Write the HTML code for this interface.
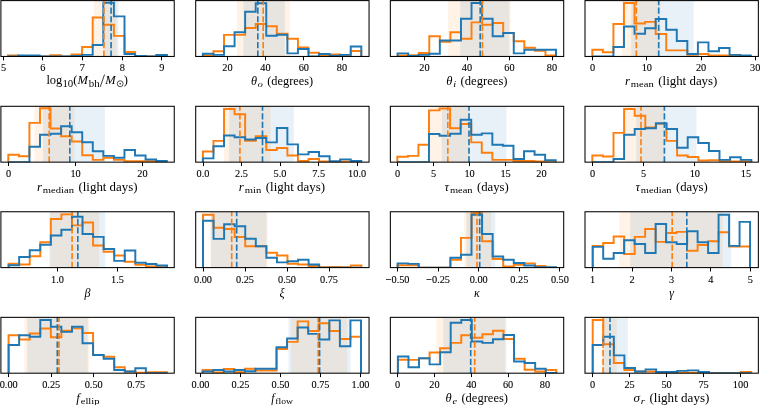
<!DOCTYPE html><html><head><meta charset="utf-8"><style>html,body{margin:0;padding:0;background:#fff;}svg{display:block;will-change:transform;}</style></head><body>
<svg width="760" height="405" viewBox="0 0 760 405">
<rect width="760" height="405" fill="#fff"/>
<clipPath id="c00"><rect x="0.90" y="0.60" width="173.35" height="55.85"/></clipPath>
<g clip-path="url(#c00)">
<rect x="93.90" y="0.60" width="22.60" height="55.85" fill="#ff7f0e" fill-opacity="0.1"/>
<rect x="104.50" y="0.60" width="13.90" height="55.85" fill="#1f77b4" fill-opacity="0.1"/>
<path d="M7.90 56.45 L7.90 55.55 L18.50 55.55 L18.50 56.45 L29.10 56.45 L29.10 56.45 L39.70 56.45 L39.70 56.45 L50.30 56.45 L50.30 55.25 L60.90 55.25 L60.90 56.45 L71.50 56.45 L71.50 54.55 L82.10 54.55 L82.10 46.95 L92.70 46.95 L92.70 17.55 L103.30 17.55 L103.30 24.75 L113.90 24.75 L113.90 35.85 L124.50 35.85 L124.50 51.95 L135.10 51.95 L135.10 55.85 L145.70 55.85 L145.70 56.45 L156.30 56.45 L156.30 56.45 L166.90 56.45 L166.90 56.45" fill="none" stroke="#ff7f0e" stroke-width="1.95" stroke-linejoin="miter"/>
<path d="M7.90 56.45 L7.90 56.45 L18.50 56.45 L18.50 55.45 L29.10 55.45 L29.10 55.45 L39.70 55.45 L39.70 56.45 L50.30 56.45 L50.30 56.45 L60.90 56.45 L60.90 56.45 L71.50 56.45 L71.50 55.85 L82.10 55.85 L82.10 54.85 L92.70 54.85 L92.70 45.05 L103.30 45.05 L103.30 2.85 L113.90 2.85 L113.90 16.35 L124.50 16.35 L124.50 54.05 L135.10 54.05 L135.10 55.85 L145.70 55.85 L145.70 56.45 L156.30 56.45 L156.30 54.95 L166.90 54.95 L166.90 56.45" fill="none" stroke="#1f77b4" stroke-width="1.95" stroke-linejoin="miter"/>
<line x1="103.90" y1="56.75" x2="103.90" y2="0.60" stroke="#ff7f0e" stroke-width="1.65" stroke-dasharray="6.2 2.4"/>
<line x1="111.10" y1="56.75" x2="111.10" y2="0.60" stroke="#1f77b4" stroke-width="1.65" stroke-dasharray="6.2 2.4"/>
</g>
<rect x="0.90" y="0.60" width="173.35" height="55.85" fill="none" stroke="#000" stroke-width="1.05"/>
<line x1="3.50" y1="56.45" x2="3.50" y2="60.35" stroke="#000" stroke-width="1.0"/>
<text x="3.50" y="71.45" font-family='"Liberation Serif", serif' font-size="10.30" text-anchor="middle" fill="#000" stroke="#000" stroke-width="0.10">5</text>
<line x1="42.50" y1="56.45" x2="42.50" y2="60.35" stroke="#000" stroke-width="1.0"/>
<text x="42.90" y="71.45" font-family='"Liberation Serif", serif' font-size="10.30" text-anchor="middle" fill="#000" stroke="#000" stroke-width="0.10">6</text>
<line x1="82.50" y1="56.45" x2="82.50" y2="60.35" stroke="#000" stroke-width="1.0"/>
<text x="82.40" y="71.45" font-family='"Liberation Serif", serif' font-size="10.30" text-anchor="middle" fill="#000" stroke="#000" stroke-width="0.10">7</text>
<line x1="122.50" y1="56.45" x2="122.50" y2="60.35" stroke="#000" stroke-width="1.0"/>
<text x="122.30" y="71.45" font-family='"Liberation Serif", serif' font-size="10.30" text-anchor="middle" fill="#000" stroke="#000" stroke-width="0.10">8</text>
<line x1="161.50" y1="56.45" x2="161.50" y2="60.35" stroke="#000" stroke-width="1.0"/>
<text x="161.80" y="71.45" font-family='"Liberation Serif", serif' font-size="10.30" text-anchor="middle" fill="#000" stroke="#000" stroke-width="0.10">9</text>
<clipPath id="c01"><rect x="195.70" y="0.60" width="173.35" height="55.85"/></clipPath>
<g clip-path="url(#c01)">
<rect x="237.00" y="0.60" width="52.90" height="55.85" fill="#ff7f0e" fill-opacity="0.1"/>
<rect x="243.40" y="0.60" width="41.50" height="55.85" fill="#1f77b4" fill-opacity="0.1"/>
<path d="M202.90 56.45 L202.90 55.55 L213.46 55.55 L213.46 51.25 L224.02 51.25 L224.02 34.85 L234.58 34.85 L234.58 34.85 L245.14 34.85 L245.14 27.95 L255.70 27.95 L255.70 24.05 L266.26 24.05 L266.26 26.15 L276.82 26.15 L276.82 33.65 L287.38 33.65 L287.38 38.75 L297.94 38.75 L297.94 47.35 L308.50 47.35 L308.50 52.65 L319.06 52.65 L319.06 55.55 L329.62 55.55 L329.62 54.55 L340.18 54.55 L340.18 54.85 L350.74 54.85 L350.74 50.95 L361.30 50.95 L361.30 56.45" fill="none" stroke="#ff7f0e" stroke-width="1.95" stroke-linejoin="miter"/>
<path d="M202.90 56.45 L202.90 53.65 L213.46 53.65 L213.46 54.85 L224.02 54.85 L224.02 46.25 L234.58 46.25 L234.58 32.15 L245.14 32.15 L245.14 11.65 L255.70 11.65 L255.70 3.25 L266.26 3.25 L266.26 35.65 L276.82 35.65 L276.82 34.75 L287.38 34.75 L287.38 53.35 L297.94 53.35 L297.94 49.05 L308.50 49.05 L308.50 56.45 L319.06 56.45 L319.06 54.05 L329.62 54.05 L329.62 55.65 L340.18 55.65 L340.18 54.85 L350.74 54.85 L350.74 46.55 L361.30 46.55 L361.30 56.45" fill="none" stroke="#1f77b4" stroke-width="1.95" stroke-linejoin="miter"/>
<line x1="263.20" y1="56.75" x2="263.20" y2="0.60" stroke="#ff7f0e" stroke-width="1.65" stroke-dasharray="6.2 2.4"/>
<line x1="257.80" y1="56.75" x2="257.80" y2="0.60" stroke="#1f77b4" stroke-width="1.65" stroke-dasharray="6.2 2.4"/>
</g>
<rect x="195.70" y="0.60" width="173.35" height="55.85" fill="none" stroke="#000" stroke-width="1.05"/>
<line x1="227.50" y1="56.45" x2="227.50" y2="60.35" stroke="#000" stroke-width="1.0"/>
<text x="227.50" y="71.45" font-family='"Liberation Serif", serif' font-size="10.30" text-anchor="middle" fill="#000" stroke="#000" stroke-width="0.10">20</text>
<line x1="265.50" y1="56.45" x2="265.50" y2="60.35" stroke="#000" stroke-width="1.0"/>
<text x="265.50" y="71.45" font-family='"Liberation Serif", serif' font-size="10.30" text-anchor="middle" fill="#000" stroke="#000" stroke-width="0.10">40</text>
<line x1="303.50" y1="56.45" x2="303.50" y2="60.35" stroke="#000" stroke-width="1.0"/>
<text x="303.80" y="71.45" font-family='"Liberation Serif", serif' font-size="10.30" text-anchor="middle" fill="#000" stroke="#000" stroke-width="0.10">60</text>
<line x1="342.50" y1="56.45" x2="342.50" y2="60.35" stroke="#000" stroke-width="1.0"/>
<text x="342.00" y="71.45" font-family='"Liberation Serif", serif' font-size="10.30" text-anchor="middle" fill="#000" stroke="#000" stroke-width="0.10">80</text>
<clipPath id="c02"><rect x="390.35" y="0.60" width="173.35" height="55.85"/></clipPath>
<g clip-path="url(#c02)">
<rect x="448.10" y="0.60" width="62.60" height="55.85" fill="#ff7f0e" fill-opacity="0.1"/>
<rect x="460.20" y="0.60" width="49.00" height="55.85" fill="#1f77b4" fill-opacity="0.1"/>
<path d="M397.60 56.45 L397.60 55.55 L408.16 55.55 L408.16 55.25 L418.72 55.25 L418.72 53.05 L429.28 53.05 L429.28 36.15 L439.84 36.15 L439.84 41.65 L450.40 41.65 L450.40 32.15 L460.96 32.15 L460.96 38.75 L471.52 38.75 L471.52 22.35 L482.08 22.35 L482.08 24.75 L492.64 24.75 L492.64 22.95 L503.20 22.95 L503.20 33.05 L513.76 33.05 L513.76 41.15 L524.32 41.15 L524.32 47.65 L534.88 47.65 L534.88 50.75 L545.44 50.75 L545.44 55.55 L556.00 55.55 L556.00 56.45" fill="none" stroke="#ff7f0e" stroke-width="1.95" stroke-linejoin="miter"/>
<path d="M397.60 56.45 L397.60 53.35 L408.16 53.35 L408.16 55.95 L418.72 55.95 L418.72 54.85 L429.28 54.85 L429.28 53.65 L439.84 53.65 L439.84 40.45 L450.40 40.45 L450.40 40.45 L460.96 40.45 L460.96 18.65 L471.52 18.65 L471.52 2.95 L482.08 2.95 L482.08 18.65 L492.64 18.65 L492.64 36.15 L503.20 36.15 L503.20 33.05 L513.76 33.05 L513.76 53.35 L524.32 53.35 L524.32 49.75 L534.88 49.75 L534.88 49.75 L545.44 49.75 L545.44 49.75 L556.00 49.75 L556.00 56.45" fill="none" stroke="#1f77b4" stroke-width="1.95" stroke-linejoin="miter"/>
<line x1="482.40" y1="56.75" x2="482.40" y2="0.60" stroke="#ff7f0e" stroke-width="1.65" stroke-dasharray="6.2 2.4"/>
<line x1="480.20" y1="56.75" x2="480.20" y2="0.60" stroke="#1f77b4" stroke-width="1.65" stroke-dasharray="6.2 2.4"/>
</g>
<rect x="390.35" y="0.60" width="173.35" height="55.85" fill="none" stroke="#000" stroke-width="1.05"/>
<line x1="424.50" y1="56.45" x2="424.50" y2="60.35" stroke="#000" stroke-width="1.0"/>
<text x="424.50" y="71.45" font-family='"Liberation Serif", serif' font-size="10.30" text-anchor="middle" fill="#000" stroke="#000" stroke-width="0.10">20</text>
<line x1="467.50" y1="56.45" x2="467.50" y2="60.35" stroke="#000" stroke-width="1.0"/>
<text x="467.00" y="71.45" font-family='"Liberation Serif", serif' font-size="10.30" text-anchor="middle" fill="#000" stroke="#000" stroke-width="0.10">40</text>
<line x1="509.50" y1="56.45" x2="509.50" y2="60.35" stroke="#000" stroke-width="1.0"/>
<text x="509.50" y="71.45" font-family='"Liberation Serif", serif' font-size="10.30" text-anchor="middle" fill="#000" stroke="#000" stroke-width="0.10">60</text>
<line x1="552.50" y1="56.45" x2="552.50" y2="60.35" stroke="#000" stroke-width="1.0"/>
<text x="552.00" y="71.45" font-family='"Liberation Serif", serif' font-size="10.30" text-anchor="middle" fill="#000" stroke="#000" stroke-width="0.10">80</text>
<clipPath id="c03"><rect x="585.00" y="0.60" width="173.35" height="55.85"/></clipPath>
<g clip-path="url(#c03)">
<rect x="621.70" y="0.60" width="38.70" height="55.85" fill="#ff7f0e" fill-opacity="0.1"/>
<rect x="631.30" y="0.60" width="62.30" height="55.85" fill="#1f77b4" fill-opacity="0.1"/>
<path d="M592.30 56.45 L592.30 49.75 L602.86 49.75 L602.86 52.25 L613.42 52.25 L613.42 23.95 L623.98 23.95 L623.98 2.95 L634.54 2.95 L634.54 23.55 L645.10 23.55 L645.10 21.85 L655.66 21.85 L655.66 34.05 L666.22 34.05 L666.22 50.35 L676.78 50.35 L676.78 50.35 L687.34 50.35 L687.34 54.85 L697.90 54.85 L697.90 54.05 L708.46 54.05 L708.46 55.55 L719.02 55.55 L719.02 55.55 L729.58 55.55 L729.58 55.95 L740.14 55.95 L740.14 55.95 L750.70 55.95 L750.70 56.45" fill="none" stroke="#ff7f0e" stroke-width="1.95" stroke-linejoin="miter"/>
<path d="M592.30 56.45 L592.30 56.45 L602.86 56.45 L602.86 56.45 L613.42 56.45 L613.42 46.95 L623.98 46.95 L623.98 26.45 L634.54 26.45 L634.54 33.65 L645.10 33.65 L645.10 28.25 L655.66 28.25 L655.66 18.95 L666.22 18.95 L666.22 29.75 L676.78 29.75 L676.78 40.95 L687.34 40.95 L687.34 54.05 L697.90 54.05 L697.90 42.35 L708.46 42.35 L708.46 51.25 L719.02 51.25 L719.02 47.95 L729.58 47.95 L729.58 54.85 L740.14 54.85 L740.14 55.55 L750.70 55.55 L750.70 56.45" fill="none" stroke="#1f77b4" stroke-width="1.95" stroke-linejoin="miter"/>
<line x1="636.30" y1="56.75" x2="636.30" y2="0.60" stroke="#ff7f0e" stroke-width="1.65" stroke-dasharray="6.2 2.4"/>
<line x1="658.70" y1="56.75" x2="658.70" y2="0.60" stroke="#1f77b4" stroke-width="1.65" stroke-dasharray="6.2 2.4"/>
</g>
<rect x="585.00" y="0.60" width="173.35" height="55.85" fill="none" stroke="#000" stroke-width="1.05"/>
<line x1="592.50" y1="56.45" x2="592.50" y2="60.35" stroke="#000" stroke-width="1.0"/>
<text x="592.60" y="71.45" font-family='"Liberation Serif", serif' font-size="10.30" text-anchor="middle" fill="#000" stroke="#000" stroke-width="0.10">0</text>
<line x1="646.50" y1="56.45" x2="646.50" y2="60.35" stroke="#000" stroke-width="1.0"/>
<text x="646.80" y="71.45" font-family='"Liberation Serif", serif' font-size="10.30" text-anchor="middle" fill="#000" stroke="#000" stroke-width="0.10">10</text>
<line x1="701.50" y1="56.45" x2="701.50" y2="60.35" stroke="#000" stroke-width="1.0"/>
<text x="701.10" y="71.45" font-family='"Liberation Serif", serif' font-size="10.30" text-anchor="middle" fill="#000" stroke="#000" stroke-width="0.10">20</text>
<line x1="755.50" y1="56.45" x2="755.50" y2="60.35" stroke="#000" stroke-width="1.0"/>
<text x="755.20" y="71.45" font-family='"Liberation Serif", serif' font-size="10.30" text-anchor="middle" fill="#000" stroke="#000" stroke-width="0.10">30</text>
<clipPath id="c10"><rect x="0.90" y="106.30" width="173.35" height="55.85"/></clipPath>
<g clip-path="url(#c10)">
<rect x="34.40" y="106.30" width="40.10" height="55.85" fill="#ff7f0e" fill-opacity="0.1"/>
<rect x="43.00" y="106.30" width="61.90" height="55.85" fill="#1f77b4" fill-opacity="0.1"/>
<path d="M8.30 162.15 L8.30 154.75 L18.86 154.75 L18.86 156.25 L29.42 156.25 L29.42 122.85 L39.98 122.85 L39.98 108.25 L50.54 108.25 L50.54 128.55 L61.10 128.55 L61.10 136.15 L71.66 136.15 L71.66 141.45 L82.22 141.45 L82.22 155.15 L92.78 155.15 L92.78 159.85 L103.34 159.85 L103.34 157.65 L113.90 157.65 L113.90 159.85 L124.46 159.85 L124.46 161.25 L135.02 161.25 L135.02 161.25 L145.58 161.25 L145.58 161.25 L156.14 161.25 L156.14 161.35 L166.70 161.35 L166.70 162.15" fill="none" stroke="#ff7f0e" stroke-width="1.95" stroke-linejoin="miter"/>
<path d="M8.30 162.15 L8.30 162.15 L18.86 162.15 L18.86 162.15 L29.42 162.15 L29.42 146.65 L39.98 146.65 L39.98 134.75 L50.54 134.75 L50.54 133.75 L61.10 133.75 L61.10 126.15 L71.66 126.15 L71.66 132.25 L82.22 132.25 L82.22 142.15 L92.78 142.15 L92.78 151.25 L103.34 151.25 L103.34 155.85 L113.90 155.85 L113.90 157.65 L124.46 157.65 L124.46 150.05 L135.02 150.05 L135.02 155.55 L145.58 155.55 L145.58 159.55 L156.14 159.55 L156.14 160.95 L166.70 160.95 L166.70 162.15" fill="none" stroke="#1f77b4" stroke-width="1.95" stroke-linejoin="miter"/>
<line x1="49.20" y1="162.45" x2="49.20" y2="106.30" stroke="#ff7f0e" stroke-width="1.65" stroke-dasharray="6.2 2.4"/>
<line x1="69.80" y1="162.45" x2="69.80" y2="106.30" stroke="#1f77b4" stroke-width="1.65" stroke-dasharray="6.2 2.4"/>
</g>
<rect x="0.90" y="106.30" width="173.35" height="55.85" fill="none" stroke="#000" stroke-width="1.05"/>
<line x1="8.50" y1="162.15" x2="8.50" y2="166.05" stroke="#000" stroke-width="1.0"/>
<text x="8.70" y="177.15" font-family='"Liberation Serif", serif' font-size="10.30" text-anchor="middle" fill="#000" stroke="#000" stroke-width="0.10">0</text>
<line x1="75.50" y1="162.15" x2="75.50" y2="166.05" stroke="#000" stroke-width="1.0"/>
<text x="75.60" y="177.15" font-family='"Liberation Serif", serif' font-size="10.30" text-anchor="middle" fill="#000" stroke="#000" stroke-width="0.10">10</text>
<line x1="142.50" y1="162.15" x2="142.50" y2="166.05" stroke="#000" stroke-width="1.0"/>
<text x="142.50" y="177.15" font-family='"Liberation Serif", serif' font-size="10.30" text-anchor="middle" fill="#000" stroke="#000" stroke-width="0.10">20</text>
<clipPath id="c11"><rect x="195.70" y="106.30" width="173.35" height="55.85"/></clipPath>
<g clip-path="url(#c11)">
<rect x="224.10" y="106.30" width="46.60" height="55.85" fill="#ff7f0e" fill-opacity="0.1"/>
<rect x="229.10" y="106.30" width="64.70" height="55.85" fill="#1f77b4" fill-opacity="0.1"/>
<path d="M202.90 162.15 L202.90 151.55 L213.46 151.55 L213.46 140.85 L224.02 140.85 L224.02 108.95 L234.58 108.95 L234.58 114.25 L245.14 114.25 L245.14 140.85 L255.70 140.85 L255.70 136.15 L266.26 136.15 L266.26 150.05 L276.82 150.05 L276.82 148.05 L287.38 148.05 L287.38 155.55 L297.94 155.55 L297.94 160.95 L308.50 160.95 L308.50 159.05 L319.06 159.05 L319.06 161.55 L329.62 161.55 L329.62 162.15 L340.18 162.15 L340.18 161.55 L350.74 161.55 L350.74 162.15 L361.30 162.15 L361.30 162.15" fill="none" stroke="#ff7f0e" stroke-width="1.95" stroke-linejoin="miter"/>
<path d="M202.90 162.15 L202.90 158.35 L213.46 158.35 L213.46 146.15 L224.02 146.15 L224.02 135.45 L234.58 135.45 L234.58 137.15 L245.14 137.15 L245.14 139.45 L255.70 139.45 L255.70 138.05 L266.26 138.05 L266.26 142.35 L276.82 142.35 L276.82 127.95 L287.38 127.95 L287.38 144.35 L297.94 144.35 L297.94 154.35 L308.50 154.35 L308.50 151.95 L319.06 151.95 L319.06 156.25 L329.62 156.25 L329.62 161.25 L340.18 161.25 L340.18 159.35 L350.74 159.35 L350.74 160.95 L361.30 160.95 L361.30 162.15" fill="none" stroke="#1f77b4" stroke-width="1.95" stroke-linejoin="miter"/>
<line x1="239.90" y1="162.45" x2="239.90" y2="106.30" stroke="#ff7f0e" stroke-width="1.65" stroke-dasharray="6.2 2.4"/>
<line x1="262.50" y1="162.45" x2="262.50" y2="106.30" stroke="#1f77b4" stroke-width="1.65" stroke-dasharray="6.2 2.4"/>
</g>
<rect x="195.70" y="106.30" width="173.35" height="55.85" fill="none" stroke="#000" stroke-width="1.05"/>
<line x1="203.50" y1="162.15" x2="203.50" y2="166.05" stroke="#000" stroke-width="1.0"/>
<text x="203.00" y="177.15" font-family='"Liberation Serif", serif' font-size="10.30" text-anchor="middle" fill="#000" stroke="#000" stroke-width="0.10">0.0</text>
<line x1="241.50" y1="162.15" x2="241.50" y2="166.05" stroke="#000" stroke-width="1.0"/>
<text x="241.50" y="177.15" font-family='"Liberation Serif", serif' font-size="10.30" text-anchor="middle" fill="#000" stroke="#000" stroke-width="0.10">2.5</text>
<line x1="280.50" y1="162.15" x2="280.50" y2="166.05" stroke="#000" stroke-width="1.0"/>
<text x="280.00" y="177.15" font-family='"Liberation Serif", serif' font-size="10.30" text-anchor="middle" fill="#000" stroke="#000" stroke-width="0.10">5.0</text>
<line x1="318.50" y1="162.15" x2="318.50" y2="166.05" stroke="#000" stroke-width="1.0"/>
<text x="318.60" y="177.15" font-family='"Liberation Serif", serif' font-size="10.30" text-anchor="middle" fill="#000" stroke="#000" stroke-width="0.10">7.5</text>
<line x1="357.50" y1="162.15" x2="357.50" y2="166.05" stroke="#000" stroke-width="1.0"/>
<text x="357.10" y="177.15" font-family='"Liberation Serif", serif' font-size="10.30" text-anchor="middle" fill="#000" stroke="#000" stroke-width="0.10">10.0</text>
<clipPath id="c12"><rect x="390.35" y="106.30" width="173.35" height="55.85"/></clipPath>
<g clip-path="url(#c12)">
<rect x="429.80" y="106.30" width="39.50" height="55.85" fill="#ff7f0e" fill-opacity="0.1"/>
<rect x="441.70" y="106.30" width="64.70" height="55.85" fill="#1f77b4" fill-opacity="0.1"/>
<path d="M397.30 162.15 L397.30 156.65 L407.86 156.65 L407.86 155.85 L418.42 155.85 L418.42 144.75 L428.98 144.75 L428.98 110.35 L439.54 110.35 L439.54 108.55 L450.10 108.55 L450.10 128.25 L460.66 128.25 L460.66 123.95 L471.22 123.95 L471.22 142.35 L481.78 142.35 L481.78 152.65 L492.34 152.65 L492.34 159.85 L502.90 159.85 L502.90 159.85 L513.46 159.85 L513.46 160.95 L524.02 160.95 L524.02 160.95 L534.58 160.95 L534.58 161.55 L545.14 161.55 L545.14 162.15 L555.70 162.15 L555.70 162.15" fill="none" stroke="#ff7f0e" stroke-width="1.95" stroke-linejoin="miter"/>
<path d="M397.30 162.15 L397.30 162.15 L407.86 162.15 L407.86 162.15 L418.42 162.15 L418.42 162.15 L428.98 162.15 L428.98 134.05 L439.54 134.05 L439.54 135.75 L450.10 135.75 L450.10 133.75 L460.66 133.75 L460.66 119.65 L471.22 119.65 L471.22 134.75 L481.78 134.75 L481.78 133.35 L492.34 133.35 L492.34 144.75 L502.90 144.75 L502.90 145.75 L513.46 145.75 L513.46 159.05 L524.02 159.05 L524.02 151.25 L534.58 151.25 L534.58 154.75 L545.14 154.75 L545.14 160.15 L555.70 160.15 L555.70 162.15" fill="none" stroke="#1f77b4" stroke-width="1.95" stroke-linejoin="miter"/>
<line x1="447.80" y1="162.45" x2="447.80" y2="106.30" stroke="#ff7f0e" stroke-width="1.65" stroke-dasharray="6.2 2.4"/>
<line x1="469.00" y1="162.45" x2="469.00" y2="106.30" stroke="#1f77b4" stroke-width="1.65" stroke-dasharray="6.2 2.4"/>
</g>
<rect x="390.35" y="106.30" width="173.35" height="55.85" fill="none" stroke="#000" stroke-width="1.05"/>
<line x1="397.50" y1="162.15" x2="397.50" y2="166.05" stroke="#000" stroke-width="1.0"/>
<text x="397.60" y="177.15" font-family='"Liberation Serif", serif' font-size="10.30" text-anchor="middle" fill="#000" stroke="#000" stroke-width="0.10">0</text>
<line x1="433.50" y1="162.15" x2="433.50" y2="166.05" stroke="#000" stroke-width="1.0"/>
<text x="433.60" y="177.15" font-family='"Liberation Serif", serif' font-size="10.30" text-anchor="middle" fill="#000" stroke="#000" stroke-width="0.10">5</text>
<line x1="469.50" y1="162.15" x2="469.50" y2="166.05" stroke="#000" stroke-width="1.0"/>
<text x="469.60" y="177.15" font-family='"Liberation Serif", serif' font-size="10.30" text-anchor="middle" fill="#000" stroke="#000" stroke-width="0.10">10</text>
<line x1="505.50" y1="162.15" x2="505.50" y2="166.05" stroke="#000" stroke-width="1.0"/>
<text x="505.60" y="177.15" font-family='"Liberation Serif", serif' font-size="10.30" text-anchor="middle" fill="#000" stroke="#000" stroke-width="0.10">15</text>
<line x1="541.50" y1="162.15" x2="541.50" y2="166.05" stroke="#000" stroke-width="1.0"/>
<text x="541.50" y="177.15" font-family='"Liberation Serif", serif' font-size="10.30" text-anchor="middle" fill="#000" stroke="#000" stroke-width="0.10">20</text>
<clipPath id="c13"><rect x="585.00" y="106.30" width="173.35" height="55.85"/></clipPath>
<g clip-path="url(#c13)">
<rect x="624.90" y="106.30" width="39.10" height="55.85" fill="#ff7f0e" fill-opacity="0.1"/>
<rect x="636.30" y="106.30" width="60.20" height="55.85" fill="#1f77b4" fill-opacity="0.1"/>
<path d="M592.30 162.15 L592.30 155.55 L602.90 155.55 L602.90 156.55 L613.50 156.55 L613.50 132.85 L624.10 132.85 L624.10 108.95 L634.70 108.95 L634.70 115.65 L645.30 115.65 L645.30 127.35 L655.90 127.35 L655.90 123.85 L666.50 123.85 L666.50 140.85 L677.10 140.85 L677.10 155.55 L687.70 155.55 L687.70 156.95 L698.30 156.95 L698.30 160.55 L708.90 160.55 L708.90 160.15 L719.50 160.15 L719.50 161.25 L730.10 161.25 L730.10 161.55 L740.70 161.55 L740.70 161.55 L751.30 161.55 L751.30 162.15" fill="none" stroke="#ff7f0e" stroke-width="1.95" stroke-linejoin="miter"/>
<path d="M592.30 162.15 L592.30 162.15 L602.90 162.15 L602.90 162.15 L613.50 162.15 L613.50 159.05 L624.10 159.05 L624.10 134.75 L634.70 134.75 L634.70 128.95 L645.30 128.95 L645.30 128.15 L655.90 128.15 L655.90 123.15 L666.50 123.15 L666.50 128.95 L677.10 128.95 L677.10 147.65 L687.70 147.65 L687.70 137.15 L698.30 137.15 L698.30 142.95 L708.90 142.95 L708.90 150.95 L719.50 150.95 L719.50 159.85 L730.10 159.85 L730.10 157.25 L740.70 157.25 L740.70 159.85 L751.30 159.85 L751.30 162.15" fill="none" stroke="#1f77b4" stroke-width="1.95" stroke-linejoin="miter"/>
<line x1="641.00" y1="162.45" x2="641.00" y2="106.30" stroke="#ff7f0e" stroke-width="1.65" stroke-dasharray="6.2 2.4"/>
<line x1="664.40" y1="162.45" x2="664.40" y2="106.30" stroke="#1f77b4" stroke-width="1.65" stroke-dasharray="6.2 2.4"/>
</g>
<rect x="585.00" y="106.30" width="173.35" height="55.85" fill="none" stroke="#000" stroke-width="1.05"/>
<line x1="592.50" y1="162.15" x2="592.50" y2="166.05" stroke="#000" stroke-width="1.0"/>
<text x="592.60" y="177.15" font-family='"Liberation Serif", serif' font-size="10.30" text-anchor="middle" fill="#000" stroke="#000" stroke-width="0.10">0</text>
<line x1="643.50" y1="162.15" x2="643.50" y2="166.05" stroke="#000" stroke-width="1.0"/>
<text x="643.70" y="177.15" font-family='"Liberation Serif", serif' font-size="10.30" text-anchor="middle" fill="#000" stroke="#000" stroke-width="0.10">5</text>
<line x1="694.50" y1="162.15" x2="694.50" y2="166.05" stroke="#000" stroke-width="1.0"/>
<text x="694.80" y="177.15" font-family='"Liberation Serif", serif' font-size="10.30" text-anchor="middle" fill="#000" stroke="#000" stroke-width="0.10">10</text>
<line x1="745.50" y1="162.15" x2="745.50" y2="166.05" stroke="#000" stroke-width="1.0"/>
<text x="745.90" y="177.15" font-family='"Liberation Serif", serif' font-size="10.30" text-anchor="middle" fill="#000" stroke="#000" stroke-width="0.10">15</text>
<clipPath id="c20"><rect x="0.90" y="211.75" width="173.35" height="55.85"/></clipPath>
<g clip-path="url(#c20)">
<rect x="50.20" y="211.75" width="49.00" height="55.85" fill="#ff7f0e" fill-opacity="0.1"/>
<rect x="49.40" y="211.75" width="55.80" height="55.85" fill="#1f77b4" fill-opacity="0.1"/>
<path d="M8.60 267.60 L8.60 263.65 L19.16 263.65 L19.16 264.55 L29.72 264.55 L29.72 256.25 L40.28 256.25 L40.28 242.15 L50.84 242.15 L50.84 218.95 L61.40 218.95 L61.40 214.35 L71.96 214.35 L71.96 225.35 L82.52 225.35 L82.52 222.55 L93.08 222.55 L93.08 245.45 L103.64 245.45 L103.64 251.65 L114.20 251.65 L114.20 255.45 L124.76 255.45 L124.76 261.65 L135.32 261.65 L135.32 264.85 L145.88 264.85 L145.88 266.55 L156.44 266.55 L156.44 266.85 L167.00 266.85 L167.00 267.60" fill="none" stroke="#ff7f0e" stroke-width="1.95" stroke-linejoin="miter"/>
<path d="M8.60 267.60 L8.60 265.15 L19.16 265.15 L19.16 256.95 L29.72 256.95 L29.72 250.15 L40.28 250.15 L40.28 244.75 L50.84 244.75 L50.84 235.45 L61.40 235.45 L61.40 229.65 L71.96 229.65 L71.96 216.75 L82.52 216.75 L82.52 233.95 L93.08 233.95 L93.08 236.85 L103.64 236.85 L103.64 249.05 L114.20 249.05 L114.20 260.85 L124.76 260.85 L124.76 250.45 L135.32 250.45 L135.32 262.65 L145.88 262.65 L145.88 264.05 L156.44 264.05 L156.44 265.55 L167.00 265.55 L167.00 267.60" fill="none" stroke="#1f77b4" stroke-width="1.95" stroke-linejoin="miter"/>
<line x1="72.10" y1="267.90" x2="72.10" y2="211.75" stroke="#ff7f0e" stroke-width="1.65" stroke-dasharray="6.2 2.4"/>
<line x1="77.80" y1="267.90" x2="77.80" y2="211.75" stroke="#1f77b4" stroke-width="1.65" stroke-dasharray="6.2 2.4"/>
</g>
<rect x="0.90" y="211.75" width="173.35" height="55.85" fill="none" stroke="#000" stroke-width="1.05"/>
<line x1="57.50" y1="267.60" x2="57.50" y2="271.50" stroke="#000" stroke-width="1.0"/>
<text x="57.50" y="282.60" font-family='"Liberation Serif", serif' font-size="10.30" text-anchor="middle" fill="#000" stroke="#000" stroke-width="0.10">1.0</text>
<line x1="117.50" y1="267.60" x2="117.50" y2="271.50" stroke="#000" stroke-width="1.0"/>
<text x="117.50" y="282.60" font-family='"Liberation Serif", serif' font-size="10.30" text-anchor="middle" fill="#000" stroke="#000" stroke-width="0.10">1.5</text>
<clipPath id="c21"><rect x="195.70" y="211.75" width="173.35" height="55.85"/></clipPath>
<g clip-path="url(#c21)">
<rect x="210.50" y="211.75" width="57.30" height="55.85" fill="#ff7f0e" fill-opacity="0.1"/>
<rect x="211.00" y="211.75" width="55.40" height="55.85" fill="#1f77b4" fill-opacity="0.1"/>
<path d="M203.00 267.60 L203.00 214.65 L213.56 214.65 L213.56 227.65 L224.12 227.65 L224.12 228.95 L234.68 228.95 L234.68 237.05 L245.24 237.05 L245.24 246.15 L255.80 246.15 L255.80 246.15 L266.36 246.15 L266.36 252.65 L276.92 252.65 L276.92 255.45 L287.48 255.45 L287.48 263.65 L298.04 263.65 L298.04 264.55 L308.60 264.55 L308.60 265.95 L319.16 265.95 L319.16 267.15 L329.72 267.15 L329.72 266.85 L340.28 266.85 L340.28 267.15 L350.84 267.15 L350.84 265.55 L361.40 265.55 L361.40 267.60" fill="none" stroke="#ff7f0e" stroke-width="1.95" stroke-linejoin="miter"/>
<path d="M203.00 267.60 L203.00 220.65 L213.56 220.65 L213.56 238.85 L224.12 238.85 L224.12 224.25 L234.68 224.25 L234.68 226.15 L245.24 226.15 L245.24 238.65 L255.80 238.65 L255.80 246.15 L266.36 246.15 L266.36 257.65 L276.92 257.65 L276.92 262.35 L287.48 262.35 L287.48 261.25 L298.04 261.25 L298.04 259.75 L308.60 259.75 L308.60 264.55 L319.16 264.55 L319.16 267.60 L329.72 267.60 L329.72 267.60 L340.28 267.60 L340.28 267.60 L350.84 267.60 L350.84 267.60 L361.40 267.60 L361.40 267.60" fill="none" stroke="#1f77b4" stroke-width="1.95" stroke-linejoin="miter"/>
<line x1="231.70" y1="267.90" x2="231.70" y2="211.75" stroke="#ff7f0e" stroke-width="1.65" stroke-dasharray="6.2 2.4"/>
<line x1="236.70" y1="267.90" x2="236.70" y2="211.75" stroke="#1f77b4" stroke-width="1.65" stroke-dasharray="6.2 2.4"/>
</g>
<rect x="195.70" y="211.75" width="173.35" height="55.85" fill="none" stroke="#000" stroke-width="1.05"/>
<line x1="203.50" y1="267.60" x2="203.50" y2="271.50" stroke="#000" stroke-width="1.0"/>
<text x="203.00" y="282.60" font-family='"Liberation Serif", serif' font-size="10.30" text-anchor="middle" fill="#000" stroke="#000" stroke-width="0.10">0.00</text>
<line x1="245.50" y1="267.60" x2="245.50" y2="271.50" stroke="#000" stroke-width="1.0"/>
<text x="245.00" y="282.60" font-family='"Liberation Serif", serif' font-size="10.30" text-anchor="middle" fill="#000" stroke="#000" stroke-width="0.10">0.25</text>
<line x1="287.50" y1="267.60" x2="287.50" y2="271.50" stroke="#000" stroke-width="1.0"/>
<text x="287.00" y="282.60" font-family='"Liberation Serif", serif' font-size="10.30" text-anchor="middle" fill="#000" stroke="#000" stroke-width="0.10">0.50</text>
<line x1="329.50" y1="267.60" x2="329.50" y2="271.50" stroke="#000" stroke-width="1.0"/>
<text x="329.00" y="282.60" font-family='"Liberation Serif", serif' font-size="10.30" text-anchor="middle" fill="#000" stroke="#000" stroke-width="0.10">0.75</text>
<clipPath id="c22"><rect x="390.35" y="211.75" width="173.35" height="55.85"/></clipPath>
<g clip-path="url(#c22)">
<rect x="464.20" y="211.75" width="27.10" height="55.85" fill="#ff7f0e" fill-opacity="0.1"/>
<rect x="466.40" y="211.75" width="28.90" height="55.85" fill="#1f77b4" fill-opacity="0.1"/>
<path d="M397.60 267.60 L397.60 265.15 L408.16 265.15 L408.16 265.15 L418.72 265.15 L418.72 267.60 L429.28 267.60 L429.28 267.60 L439.84 267.60 L439.84 267.60 L450.40 267.60 L450.40 259.75 L460.96 259.75 L460.96 237.85 L471.52 237.85 L471.52 213.15 L482.08 213.15 L482.08 241.15 L492.64 241.15 L492.64 259.05 L503.20 259.05 L503.20 266.55 L513.76 266.55 L513.76 264.85 L524.32 264.85 L524.32 263.35 L534.88 263.35 L534.88 265.95 L545.44 265.95 L545.44 267.60 L556.00 267.60 L556.00 267.60" fill="none" stroke="#ff7f0e" stroke-width="1.95" stroke-linejoin="miter"/>
<path d="M397.60 267.60 L397.60 263.35 L408.16 263.35 L408.16 263.85 L418.72 263.85 L418.72 267.60 L429.28 267.60 L429.28 267.60 L439.84 267.60 L439.84 267.60 L450.40 267.60 L450.40 257.65 L460.96 257.65 L460.96 254.75 L471.52 254.75 L471.52 214.65 L482.08 214.65 L482.08 233.95 L492.64 233.95 L492.64 256.55 L503.20 256.55 L503.20 259.75 L513.76 259.75 L513.76 263.05 L524.32 263.05 L524.32 265.55 L534.88 265.55 L534.88 267.15 L545.44 267.15 L545.44 267.15 L556.00 267.15 L556.00 267.60" fill="none" stroke="#1f77b4" stroke-width="1.95" stroke-linejoin="miter"/>
<line x1="477.00" y1="267.90" x2="477.00" y2="211.75" stroke="#ff7f0e" stroke-width="1.65" stroke-dasharray="6.2 2.4"/>
<line x1="479.70" y1="267.90" x2="479.70" y2="211.75" stroke="#1f77b4" stroke-width="1.65" stroke-dasharray="6.2 2.4"/>
</g>
<rect x="390.35" y="211.75" width="173.35" height="55.85" fill="none" stroke="#000" stroke-width="1.05"/>
<line x1="397.50" y1="267.60" x2="397.50" y2="271.50" stroke="#000" stroke-width="1.0"/>
<text x="397.60" y="282.60" font-family='"Liberation Serif", serif' font-size="10.30" text-anchor="middle" fill="#000" stroke="#000" stroke-width="0.10">−0.50</text>
<line x1="438.50" y1="267.60" x2="438.50" y2="271.50" stroke="#000" stroke-width="1.0"/>
<text x="438.10" y="282.60" font-family='"Liberation Serif", serif' font-size="10.30" text-anchor="middle" fill="#000" stroke="#000" stroke-width="0.10">−0.25</text>
<line x1="478.50" y1="267.60" x2="478.50" y2="271.50" stroke="#000" stroke-width="1.0"/>
<text x="478.70" y="282.60" font-family='"Liberation Serif", serif' font-size="10.30" text-anchor="middle" fill="#000" stroke="#000" stroke-width="0.10">0.00</text>
<line x1="519.50" y1="267.60" x2="519.50" y2="271.50" stroke="#000" stroke-width="1.0"/>
<text x="519.30" y="282.60" font-family='"Liberation Serif", serif' font-size="10.30" text-anchor="middle" fill="#000" stroke="#000" stroke-width="0.10">0.25</text>
<line x1="559.50" y1="267.60" x2="559.50" y2="271.50" stroke="#000" stroke-width="1.0"/>
<text x="559.90" y="282.60" font-family='"Liberation Serif", serif' font-size="10.30" text-anchor="middle" fill="#000" stroke="#000" stroke-width="0.10">0.50</text>
<clipPath id="c23"><rect x="585.00" y="211.75" width="173.35" height="55.85"/></clipPath>
<g clip-path="url(#c23)">
<rect x="619.50" y="211.75" width="103.10" height="55.85" fill="#ff7f0e" fill-opacity="0.1"/>
<rect x="630.30" y="211.75" width="100.90" height="55.85" fill="#1f77b4" fill-opacity="0.1"/>
<path d="M592.70 267.60 L592.70 245.85 L603.19 245.85 L603.19 243.05 L613.68 243.05 L613.68 236.45 L624.17 236.45 L624.17 254.05 L634.66 254.05 L634.66 236.85 L645.15 236.85 L645.15 228.95 L655.64 228.95 L655.64 241.85 L666.13 241.85 L666.13 232.95 L676.62 232.95 L676.62 231.85 L687.11 231.85 L687.11 250.75 L697.60 250.75 L697.60 245.05 L708.09 245.05 L708.09 241.15 L718.58 241.15 L718.58 232.15 L729.07 232.15 L729.07 246.45 L739.56 246.45 L739.56 246.45 L750.05 246.45 L750.05 267.60" fill="none" stroke="#ff7f0e" stroke-width="1.95" stroke-linejoin="miter"/>
<path d="M592.70 267.60 L592.70 246.85 L603.19 246.85 L603.19 258.75 L613.68 258.75 L613.68 253.05 L624.17 253.05 L624.17 240.15 L634.66 240.15 L634.66 244.05 L645.15 244.05 L645.15 253.05 L655.64 253.05 L655.64 223.95 L666.13 223.95 L666.13 242.15 L676.62 242.15 L676.62 244.05 L687.11 244.05 L687.11 231.15 L697.60 231.15 L697.60 242.15 L708.09 242.15 L708.09 253.05 L718.58 253.05 L718.58 214.65 L729.07 214.65 L729.07 245.85 L739.56 245.85 L739.56 221.85 L750.05 221.85 L750.05 267.60" fill="none" stroke="#1f77b4" stroke-width="1.95" stroke-linejoin="miter"/>
<line x1="672.20" y1="267.90" x2="672.20" y2="211.75" stroke="#ff7f0e" stroke-width="1.65" stroke-dasharray="6.2 2.4"/>
<line x1="686.80" y1="267.90" x2="686.80" y2="211.75" stroke="#1f77b4" stroke-width="1.65" stroke-dasharray="6.2 2.4"/>
</g>
<rect x="585.00" y="211.75" width="173.35" height="55.85" fill="none" stroke="#000" stroke-width="1.05"/>
<line x1="592.50" y1="267.60" x2="592.50" y2="271.50" stroke="#000" stroke-width="1.0"/>
<text x="592.60" y="282.60" font-family='"Liberation Serif", serif' font-size="10.30" text-anchor="middle" fill="#000" stroke="#000" stroke-width="0.10">1</text>
<line x1="632.50" y1="267.60" x2="632.50" y2="271.50" stroke="#000" stroke-width="1.0"/>
<text x="632.00" y="282.60" font-family='"Liberation Serif", serif' font-size="10.30" text-anchor="middle" fill="#000" stroke="#000" stroke-width="0.10">2</text>
<line x1="671.50" y1="267.60" x2="671.50" y2="271.50" stroke="#000" stroke-width="1.0"/>
<text x="671.50" y="282.60" font-family='"Liberation Serif", serif' font-size="10.30" text-anchor="middle" fill="#000" stroke="#000" stroke-width="0.10">3</text>
<line x1="710.50" y1="267.60" x2="710.50" y2="271.50" stroke="#000" stroke-width="1.0"/>
<text x="710.90" y="282.60" font-family='"Liberation Serif", serif' font-size="10.30" text-anchor="middle" fill="#000" stroke="#000" stroke-width="0.10">4</text>
<line x1="750.50" y1="267.60" x2="750.50" y2="271.50" stroke="#000" stroke-width="1.0"/>
<text x="750.30" y="282.60" font-family='"Liberation Serif", serif' font-size="10.30" text-anchor="middle" fill="#000" stroke="#000" stroke-width="0.10">5</text>
<clipPath id="c30"><rect x="0.90" y="317.35" width="173.35" height="55.85"/></clipPath>
<g clip-path="url(#c30)">
<rect x="24.40" y="317.35" width="64.90" height="55.85" fill="#ff7f0e" fill-opacity="0.1"/>
<rect x="27.20" y="317.35" width="60.60" height="55.85" fill="#1f77b4" fill-opacity="0.1"/>
<path d="M8.60 373.20 L8.60 335.25 L19.16 335.25 L19.16 339.55 L29.72 339.55 L29.72 333.55 L40.28 333.55 L40.28 328.55 L50.84 328.55 L50.84 337.15 L61.40 337.15 L61.40 330.65 L71.96 330.65 L71.96 328.35 L82.52 328.35 L82.52 333.05 L93.08 333.05 L93.08 355.05 L103.64 355.05 L103.64 356.75 L114.20 356.75 L114.20 367.25 L124.76 367.25 L124.76 371.55 L135.32 371.55 L135.32 372.65 L145.88 372.65 L145.88 372.25 L156.44 372.25 L156.44 372.25 L167.00 372.25 L167.00 373.20" fill="none" stroke="#ff7f0e" stroke-width="1.95" stroke-linejoin="miter"/>
<path d="M8.60 373.20 L8.60 345.05 L19.16 345.05 L19.16 335.25 L29.72 335.25 L29.72 336.75 L40.28 336.75 L40.28 319.95 L50.84 319.95 L50.84 326.65 L61.40 326.65 L61.40 331.85 L71.96 331.85 L71.96 326.75 L82.52 326.75 L82.52 343.25 L93.08 343.25 L93.08 355.05 L103.64 355.05 L103.64 358.65 L114.20 358.65 L114.20 370.05 L124.76 370.05 L124.76 371.55 L135.32 371.55 L135.32 368.25 L145.88 368.25 L145.88 373.20 L156.44 373.20 L156.44 373.20 L167.00 373.20 L167.00 373.20" fill="none" stroke="#1f77b4" stroke-width="1.95" stroke-linejoin="miter"/>
<line x1="59.00" y1="373.50" x2="59.00" y2="317.35" stroke="#ff7f0e" stroke-width="1.65" stroke-dasharray="6.2 2.4"/>
<line x1="57.30" y1="373.50" x2="57.30" y2="317.35" stroke="#1f77b4" stroke-width="1.65" stroke-dasharray="6.2 2.4"/>
</g>
<rect x="0.90" y="317.35" width="173.35" height="55.85" fill="none" stroke="#000" stroke-width="1.05"/>
<line x1="8.50" y1="373.20" x2="8.50" y2="377.10" stroke="#000" stroke-width="1.0"/>
<text x="8.70" y="388.20" font-family='"Liberation Serif", serif' font-size="10.30" text-anchor="middle" fill="#000" stroke="#000" stroke-width="0.10">0.00</text>
<line x1="51.50" y1="373.20" x2="51.50" y2="377.10" stroke="#000" stroke-width="1.0"/>
<text x="51.20" y="388.20" font-family='"Liberation Serif", serif' font-size="10.30" text-anchor="middle" fill="#000" stroke="#000" stroke-width="0.10">0.25</text>
<line x1="93.50" y1="373.20" x2="93.50" y2="377.10" stroke="#000" stroke-width="1.0"/>
<text x="93.70" y="388.20" font-family='"Liberation Serif", serif' font-size="10.30" text-anchor="middle" fill="#000" stroke="#000" stroke-width="0.10">0.50</text>
<line x1="136.50" y1="373.20" x2="136.50" y2="377.10" stroke="#000" stroke-width="1.0"/>
<text x="136.20" y="388.20" font-family='"Liberation Serif", serif' font-size="10.30" text-anchor="middle" fill="#000" stroke="#000" stroke-width="0.10">0.75</text>
<clipPath id="c31"><rect x="195.70" y="317.35" width="173.35" height="55.85"/></clipPath>
<g clip-path="url(#c31)">
<rect x="290.90" y="317.35" width="56.30" height="55.85" fill="#ff7f0e" fill-opacity="0.1"/>
<rect x="288.40" y="317.35" width="62.10" height="55.85" fill="#1f77b4" fill-opacity="0.1"/>
<path d="M202.60 373.20 L202.60 370.05 L213.16 370.05 L213.16 372.55 L223.72 372.55 L223.72 369.05 L234.28 369.05 L234.28 372.25 L244.84 372.25 L244.84 368.65 L255.40 368.65 L255.40 370.55 L265.96 370.55 L265.96 370.55 L276.52 370.55 L276.52 349.05 L287.08 349.05 L287.08 341.85 L297.64 341.85 L297.64 321.35 L308.20 321.35 L308.20 330.95 L318.76 330.95 L318.76 323.25 L329.32 323.25 L329.32 330.95 L339.88 330.95 L339.88 338.95 L350.44 338.95 L350.44 336.75 L361.00 336.75 L361.00 373.20" fill="none" stroke="#ff7f0e" stroke-width="1.95" stroke-linejoin="miter"/>
<path d="M202.60 373.20 L202.60 371.55 L213.16 371.55 L213.16 370.05 L223.72 370.05 L223.72 371.55 L234.28 371.55 L234.28 370.05 L244.84 370.05 L244.84 371.15 L255.40 371.15 L255.40 368.65 L265.96 368.65 L265.96 368.65 L276.52 368.65 L276.52 347.15 L287.08 347.15 L287.08 338.55 L297.64 338.55 L297.64 327.55 L308.20 327.55 L308.20 333.85 L318.76 333.85 L318.76 339.55 L329.32 339.55 L329.32 320.35 L339.88 320.35 L339.88 346.15 L350.44 346.15 L350.44 320.35 L361.00 320.35 L361.00 373.20" fill="none" stroke="#1f77b4" stroke-width="1.95" stroke-linejoin="miter"/>
<line x1="318.20" y1="373.50" x2="318.20" y2="317.35" stroke="#ff7f0e" stroke-width="1.65" stroke-dasharray="6.2 2.4"/>
<line x1="319.60" y1="373.50" x2="319.60" y2="317.35" stroke="#1f77b4" stroke-width="1.65" stroke-dasharray="6.2 2.4"/>
</g>
<rect x="195.70" y="317.35" width="173.35" height="55.85" fill="none" stroke="#000" stroke-width="1.05"/>
<line x1="200.50" y1="373.20" x2="200.50" y2="377.10" stroke="#000" stroke-width="1.0"/>
<text x="200.50" y="388.20" font-family='"Liberation Serif", serif' font-size="10.30" text-anchor="middle" fill="#000" stroke="#000" stroke-width="0.10">0.00</text>
<line x1="240.50" y1="373.20" x2="240.50" y2="377.10" stroke="#000" stroke-width="1.0"/>
<text x="240.50" y="388.20" font-family='"Liberation Serif", serif' font-size="10.30" text-anchor="middle" fill="#000" stroke="#000" stroke-width="0.10">0.25</text>
<line x1="280.50" y1="373.20" x2="280.50" y2="377.10" stroke="#000" stroke-width="1.0"/>
<text x="280.50" y="388.20" font-family='"Liberation Serif", serif' font-size="10.30" text-anchor="middle" fill="#000" stroke="#000" stroke-width="0.10">0.50</text>
<line x1="320.50" y1="373.20" x2="320.50" y2="377.10" stroke="#000" stroke-width="1.0"/>
<text x="320.50" y="388.20" font-family='"Liberation Serif", serif' font-size="10.30" text-anchor="middle" fill="#000" stroke="#000" stroke-width="0.10">0.75</text>
<line x1="360.50" y1="373.20" x2="360.50" y2="377.10" stroke="#000" stroke-width="1.0"/>
<text x="360.50" y="388.20" font-family='"Liberation Serif", serif' font-size="10.30" text-anchor="middle" fill="#000" stroke="#000" stroke-width="0.10">1.00</text>
<clipPath id="c32"><rect x="390.35" y="317.35" width="173.35" height="55.85"/></clipPath>
<g clip-path="url(#c32)">
<rect x="436.30" y="317.35" width="68.70" height="55.85" fill="#ff7f0e" fill-opacity="0.1"/>
<rect x="443.20" y="317.35" width="63.20" height="55.85" fill="#1f77b4" fill-opacity="0.1"/>
<path d="M397.90 373.20 L397.90 359.65 L408.46 359.65 L408.46 359.85 L419.02 359.85 L419.02 358.35 L429.58 358.35 L429.58 352.45 L440.14 352.45 L440.14 348.15 L450.70 348.15 L450.70 342.85 L461.26 342.85 L461.26 335.25 L471.82 335.25 L471.82 337.65 L482.38 337.65 L482.38 334.25 L492.94 334.25 L492.94 330.65 L503.50 330.65 L503.50 338.95 L514.06 338.95 L514.06 358.65 L524.62 358.65 L524.62 369.65 L535.18 369.65 L535.18 371.55 L545.74 371.55 L545.74 370.05 L556.30 370.05 L556.30 373.20" fill="none" stroke="#ff7f0e" stroke-width="1.95" stroke-linejoin="miter"/>
<path d="M397.90 373.20 L397.90 356.45 L408.46 356.45 L408.46 367.25 L419.02 367.25 L419.02 358.25 L429.58 358.25 L429.58 364.35 L440.14 364.35 L440.14 352.15 L450.70 352.15 L450.70 322.75 L461.26 322.75 L461.26 319.95 L471.82 319.95 L471.82 341.45 L482.38 341.45 L482.38 342.85 L492.94 342.85 L492.94 339.25 L503.50 339.25 L503.50 334.95 L514.06 334.95 L514.06 361.45 L524.62 361.45 L524.62 362.95 L535.18 362.95 L535.18 368.65 L545.74 368.65 L545.74 372.85 L556.30 372.85 L556.30 373.20" fill="none" stroke="#1f77b4" stroke-width="1.95" stroke-linejoin="miter"/>
<line x1="474.70" y1="373.50" x2="474.70" y2="317.35" stroke="#ff7f0e" stroke-width="1.65" stroke-dasharray="6.2 2.4"/>
<line x1="470.70" y1="373.50" x2="470.70" y2="317.35" stroke="#1f77b4" stroke-width="1.65" stroke-dasharray="6.2 2.4"/>
</g>
<rect x="390.35" y="317.35" width="173.35" height="55.85" fill="none" stroke="#000" stroke-width="1.05"/>
<line x1="397.50" y1="373.20" x2="397.50" y2="377.10" stroke="#000" stroke-width="1.0"/>
<text x="397.60" y="388.20" font-family='"Liberation Serif", serif' font-size="10.30" text-anchor="middle" fill="#000" stroke="#000" stroke-width="0.10">0</text>
<line x1="434.50" y1="373.20" x2="434.50" y2="377.10" stroke="#000" stroke-width="1.0"/>
<text x="434.50" y="388.20" font-family='"Liberation Serif", serif' font-size="10.30" text-anchor="middle" fill="#000" stroke="#000" stroke-width="0.10">20</text>
<line x1="471.50" y1="373.20" x2="471.50" y2="377.10" stroke="#000" stroke-width="1.0"/>
<text x="471.30" y="388.20" font-family='"Liberation Serif", serif' font-size="10.30" text-anchor="middle" fill="#000" stroke="#000" stroke-width="0.10">40</text>
<line x1="508.50" y1="373.20" x2="508.50" y2="377.10" stroke="#000" stroke-width="1.0"/>
<text x="508.10" y="388.20" font-family='"Liberation Serif", serif' font-size="10.30" text-anchor="middle" fill="#000" stroke="#000" stroke-width="0.10">60</text>
<line x1="545.50" y1="373.20" x2="545.50" y2="377.10" stroke="#000" stroke-width="1.0"/>
<text x="545.00" y="388.20" font-family='"Liberation Serif", serif' font-size="10.30" text-anchor="middle" fill="#000" stroke="#000" stroke-width="0.10">80</text>
<clipPath id="c33"><rect x="585.00" y="317.35" width="173.35" height="55.85"/></clipPath>
<g clip-path="url(#c33)">
<rect x="602.30" y="317.35" width="14.40" height="55.85" fill="#ff7f0e" fill-opacity="0.1"/>
<rect x="602.80" y="317.35" width="25.00" height="55.85" fill="#1f77b4" fill-opacity="0.1"/>
<path d="M592.70 373.20 L592.70 319.95 L603.27 319.95 L603.27 344.25 L613.84 344.25 L613.84 362.95 L624.41 362.95 L624.41 370.05 L634.98 370.05 L634.98 371.55 L645.55 371.55 L645.55 371.55 L656.12 371.55 L656.12 373.20 L666.69 373.20 L666.69 373.20 L677.26 373.20 L677.26 372.65 L687.83 372.65 L687.83 372.65 L698.40 372.65 L698.40 373.20 L708.97 373.20 L708.97 373.20 L719.54 373.20 L719.54 373.20 L730.11 373.20 L730.11 373.20 L740.68 373.20 L740.68 371.95 L751.25 371.95 L751.25 373.20" fill="none" stroke="#ff7f0e" stroke-width="1.95" stroke-linejoin="miter"/>
<path d="M592.70 373.20 L592.70 345.05 L603.27 345.05 L603.27 336.75 L613.84 336.75 L613.84 355.35 L624.41 355.35 L624.41 367.95 L634.98 367.95 L634.98 371.55 L645.55 371.55 L645.55 369.35 L656.12 369.35 L656.12 371.95 L666.69 371.95 L666.69 371.95 L677.26 371.95 L677.26 370.85 L687.83 370.85 L687.83 370.35 L698.40 370.35 L698.40 371.95 L708.97 371.95 L708.97 373.20 L719.54 373.20 L719.54 373.20 L730.11 373.20 L730.11 373.20 L740.68 373.20 L740.68 373.20 L751.25 373.20 L751.25 373.20" fill="none" stroke="#1f77b4" stroke-width="1.95" stroke-linejoin="miter"/>
<line x1="603.10" y1="373.50" x2="603.10" y2="317.35" stroke="#ff7f0e" stroke-width="1.65" stroke-dasharray="6.2 2.4"/>
<line x1="610.00" y1="373.50" x2="610.00" y2="317.35" stroke="#1f77b4" stroke-width="1.65" stroke-dasharray="6.2 2.4"/>
</g>
<rect x="585.00" y="317.35" width="173.35" height="55.85" fill="none" stroke="#000" stroke-width="1.05"/>
<line x1="592.50" y1="373.20" x2="592.50" y2="377.10" stroke="#000" stroke-width="1.0"/>
<text x="592.60" y="388.20" font-family='"Liberation Serif", serif' font-size="10.30" text-anchor="middle" fill="#000" stroke="#000" stroke-width="0.10">0</text>
<line x1="629.50" y1="373.20" x2="629.50" y2="377.10" stroke="#000" stroke-width="1.0"/>
<text x="629.60" y="388.20" font-family='"Liberation Serif", serif' font-size="10.30" text-anchor="middle" fill="#000" stroke="#000" stroke-width="0.10">25</text>
<line x1="666.50" y1="373.20" x2="666.50" y2="377.10" stroke="#000" stroke-width="1.0"/>
<text x="666.60" y="388.20" font-family='"Liberation Serif", serif' font-size="10.30" text-anchor="middle" fill="#000" stroke="#000" stroke-width="0.10">50</text>
<line x1="703.50" y1="373.20" x2="703.50" y2="377.10" stroke="#000" stroke-width="1.0"/>
<text x="703.60" y="388.20" font-family='"Liberation Serif", serif' font-size="10.30" text-anchor="middle" fill="#000" stroke="#000" stroke-width="0.10">75</text>
<line x1="740.50" y1="373.20" x2="740.50" y2="377.10" stroke="#000" stroke-width="1.0"/>
<text x="740.60" y="388.20" font-family='"Liberation Serif", serif' font-size="10.30" text-anchor="middle" fill="#000" stroke="#000" stroke-width="0.10">100</text>
<text x="46.40" y="83.80" font-family='"Liberation Serif", serif' font-size="12.00" textLength="16.00" lengthAdjust="spacingAndGlyphs" fill="#000" stroke="#000" stroke-width="0.00">log</text>
<text x="62.40" y="86.80" font-family='"Liberation Serif", serif' font-size="9.30" textLength="10.87" lengthAdjust="spacingAndGlyphs" fill="#000" stroke="#000" stroke-width="0.00">10</text>
<text x="73.27" y="83.80" font-family='"Liberation Serif", serif' font-size="12.00" textLength="4.17" lengthAdjust="spacingAndGlyphs" fill="#000" stroke="#000" stroke-width="0.00">(</text>
<text x="77.44" y="83.80" font-family='"Liberation Serif", serif' font-size="12.00" font-style="italic" textLength="10.43" lengthAdjust="spacingAndGlyphs" fill="#000" stroke="#000" stroke-width="0.00">M</text>
<text x="88.71" y="86.80" font-family='"Liberation Serif", serif' font-size="9.30" textLength="10.87" lengthAdjust="spacingAndGlyphs" fill="#000" stroke="#000" stroke-width="0.00">bh</text>
<line x1="100.26" y1="86.80" x2="104.54" y2="74.50" stroke="#000" stroke-width="0.75"/>
<text x="105.22" y="83.80" font-family='"Liberation Serif", serif' font-size="12.00" font-style="italic" textLength="10.43" lengthAdjust="spacingAndGlyphs" fill="#000" stroke="#000" stroke-width="0.00">M</text>
<circle cx="120.16" cy="83.73" r="2.98" fill="none" stroke="#000" stroke-width="0.7"/>
<circle cx="120.16" cy="83.73" r="0.75" fill="#000"/>
<text x="123.83" y="83.80" font-family='"Liberation Serif", serif' font-size="12.00" textLength="4.17" lengthAdjust="spacingAndGlyphs" fill="#000" stroke="#000" stroke-width="0.00">)</text>
<text x="251.00" y="85.10" font-family='"Liberation Serif", serif' font-size="12.00" font-style="italic" textLength="6.05" lengthAdjust="spacingAndGlyphs" fill="#000" stroke="#000" stroke-width="0.00">θ</text>
<text x="257.88" y="87.30" font-family='"Liberation Serif", serif' font-size="8.80" font-style="italic" textLength="5.06" lengthAdjust="spacingAndGlyphs" fill="#000" stroke="#000" stroke-width="0.00">o</text>
<text x="267.25" y="85.10" font-family='"Liberation Serif", serif' font-size="12.00" textLength="45.85" lengthAdjust="spacingAndGlyphs" fill="#000" stroke="#000" stroke-width="0.00">(degrees)</text>
<text x="446.30" y="85.10" font-family='"Liberation Serif", serif' font-size="12.00" font-style="italic" textLength="6.19" lengthAdjust="spacingAndGlyphs" fill="#000" stroke="#000" stroke-width="0.00">θ</text>
<text x="453.33" y="87.30" font-family='"Liberation Serif", serif' font-size="8.80" font-style="italic" textLength="2.88" lengthAdjust="spacingAndGlyphs" fill="#000" stroke="#000" stroke-width="0.00">i</text>
<text x="460.62" y="85.10" font-family='"Liberation Serif", serif' font-size="12.00" textLength="46.88" lengthAdjust="spacingAndGlyphs" fill="#000" stroke="#000" stroke-width="0.00">(degrees)</text>
<text x="624.90" y="85.10" font-family='"Liberation Serif", serif' font-size="12.00" font-style="italic" textLength="5.02" lengthAdjust="spacingAndGlyphs" fill="#000" stroke="#000" stroke-width="0.00">r</text>
<text x="630.78" y="87.30" font-family='"Liberation Serif", serif' font-size="8.80" textLength="22.96" lengthAdjust="spacingAndGlyphs" fill="#000" stroke="#000" stroke-width="0.00">mean</text>
<text x="658.26" y="85.10" font-family='"Liberation Serif", serif' font-size="12.00" textLength="59.14" lengthAdjust="spacingAndGlyphs" fill="#000" stroke="#000" stroke-width="0.00">(light days)</text>
<text x="37.00" y="191.00" font-family='"Liberation Serif", serif' font-size="12.00" font-style="italic" textLength="5.01" lengthAdjust="spacingAndGlyphs" fill="#000" stroke="#000" stroke-width="0.00">r</text>
<text x="42.87" y="193.20" font-family='"Liberation Serif", serif' font-size="8.80" textLength="31.13" lengthAdjust="spacingAndGlyphs" fill="#000" stroke="#000" stroke-width="0.00">median</text>
<text x="78.50" y="191.00" font-family='"Liberation Serif", serif' font-size="12.00" textLength="59.00" lengthAdjust="spacingAndGlyphs" fill="#000" stroke="#000" stroke-width="0.00">(light days)</text>
<text x="238.80" y="191.00" font-family='"Liberation Serif", serif' font-size="12.00" font-style="italic" textLength="5.03" lengthAdjust="spacingAndGlyphs" fill="#000" stroke="#000" stroke-width="0.00">r</text>
<text x="244.69" y="193.20" font-family='"Liberation Serif", serif' font-size="8.80" textLength="16.52" lengthAdjust="spacingAndGlyphs" fill="#000" stroke="#000" stroke-width="0.00">min</text>
<text x="265.74" y="191.00" font-family='"Liberation Serif", serif' font-size="12.00" textLength="59.26" lengthAdjust="spacingAndGlyphs" fill="#000" stroke="#000" stroke-width="0.00">(light days)</text>
<text x="444.50" y="191.00" font-family='"Liberation Serif", serif' font-size="12.00" font-style="italic" textLength="4.56" lengthAdjust="spacingAndGlyphs" fill="#000" stroke="#000" stroke-width="0.00">τ</text>
<text x="449.90" y="193.20" font-family='"Liberation Serif", serif' font-size="8.80" textLength="22.64" lengthAdjust="spacingAndGlyphs" fill="#000" stroke="#000" stroke-width="0.00">mean</text>
<text x="476.99" y="191.00" font-family='"Liberation Serif", serif' font-size="12.00" textLength="31.81" lengthAdjust="spacingAndGlyphs" fill="#000" stroke="#000" stroke-width="0.00">(days)</text>
<text x="635.40" y="191.00" font-family='"Liberation Serif", serif' font-size="12.00" font-style="italic" textLength="4.55" lengthAdjust="spacingAndGlyphs" fill="#000" stroke="#000" stroke-width="0.00">τ</text>
<text x="640.79" y="193.20" font-family='"Liberation Serif", serif' font-size="8.80" textLength="30.71" lengthAdjust="spacingAndGlyphs" fill="#000" stroke="#000" stroke-width="0.00">median</text>
<text x="675.95" y="191.00" font-family='"Liberation Serif", serif' font-size="12.00" textLength="31.75" lengthAdjust="spacingAndGlyphs" fill="#000" stroke="#000" stroke-width="0.00">(days)</text>
<text x="84.51" y="296.65" font-family='"Liberation Serif", serif' font-size="12.00" font-style="italic" textLength="5.98" lengthAdjust="spacingAndGlyphs" fill="#000" stroke="#000" stroke-width="0.00">β</text>
<text x="279.43" y="296.65" font-family='"Liberation Serif", serif' font-size="12.00" font-style="italic" textLength="5.14" lengthAdjust="spacingAndGlyphs" fill="#000" stroke="#000" stroke-width="0.00">ξ</text>
<text x="474.12" y="296.65" font-family='"Liberation Serif", serif' font-size="12.00" font-style="italic" textLength="5.76" lengthAdjust="spacingAndGlyphs" fill="#000" stroke="#000" stroke-width="0.00">κ</text>
<text x="669.24" y="296.65" font-family='"Liberation Serif", serif' font-size="12.00" font-style="italic" textLength="4.73" lengthAdjust="spacingAndGlyphs" fill="#000" stroke="#000" stroke-width="0.00">γ</text>
<text x="76.30" y="401.60" font-family='"Liberation Serif", serif' font-size="12.00" font-style="italic" textLength="3.57" lengthAdjust="spacingAndGlyphs" fill="#000" stroke="#000" stroke-width="0.00">f</text>
<text x="80.73" y="403.80" font-family='"Liberation Serif", serif' font-size="8.80" textLength="18.77" lengthAdjust="spacingAndGlyphs" fill="#000" stroke="#000" stroke-width="0.00">ellip</text>
<text x="271.30" y="401.60" font-family='"Liberation Serif", serif' font-size="12.00" font-style="italic" textLength="3.26" lengthAdjust="spacingAndGlyphs" fill="#000" stroke="#000" stroke-width="0.00">f</text>
<text x="275.34" y="403.80" font-family='"Liberation Serif", serif' font-size="8.80" textLength="17.66" lengthAdjust="spacingAndGlyphs" fill="#000" stroke="#000" stroke-width="0.00">flow</text>
<text x="445.50" y="401.70" font-family='"Liberation Serif", serif' font-size="12.00" font-style="italic" textLength="6.15" lengthAdjust="spacingAndGlyphs" fill="#000" stroke="#000" stroke-width="0.00">θ</text>
<text x="452.48" y="403.90" font-family='"Liberation Serif", serif' font-size="8.80" font-style="italic" textLength="4.56" lengthAdjust="spacingAndGlyphs" fill="#000" stroke="#000" stroke-width="0.00">e</text>
<text x="461.43" y="401.70" font-family='"Liberation Serif", serif' font-size="12.00" textLength="46.57" lengthAdjust="spacingAndGlyphs" fill="#000" stroke="#000" stroke-width="0.00">(degrees)</text>
<text x="633.40" y="401.70" font-family='"Liberation Serif", serif' font-size="12.00" font-style="italic" textLength="6.45" lengthAdjust="spacingAndGlyphs" fill="#000" stroke="#000" stroke-width="0.00">σ</text>
<text x="640.72" y="403.90" font-family='"Liberation Serif", serif' font-size="8.80" font-style="italic" textLength="4.18" lengthAdjust="spacingAndGlyphs" fill="#000" stroke="#000" stroke-width="0.00">r</text>
<text x="649.48" y="401.70" font-family='"Liberation Serif", serif' font-size="12.00" textLength="59.92" lengthAdjust="spacingAndGlyphs" fill="#000" stroke="#000" stroke-width="0.00">(light days)</text>
</svg></body></html>
